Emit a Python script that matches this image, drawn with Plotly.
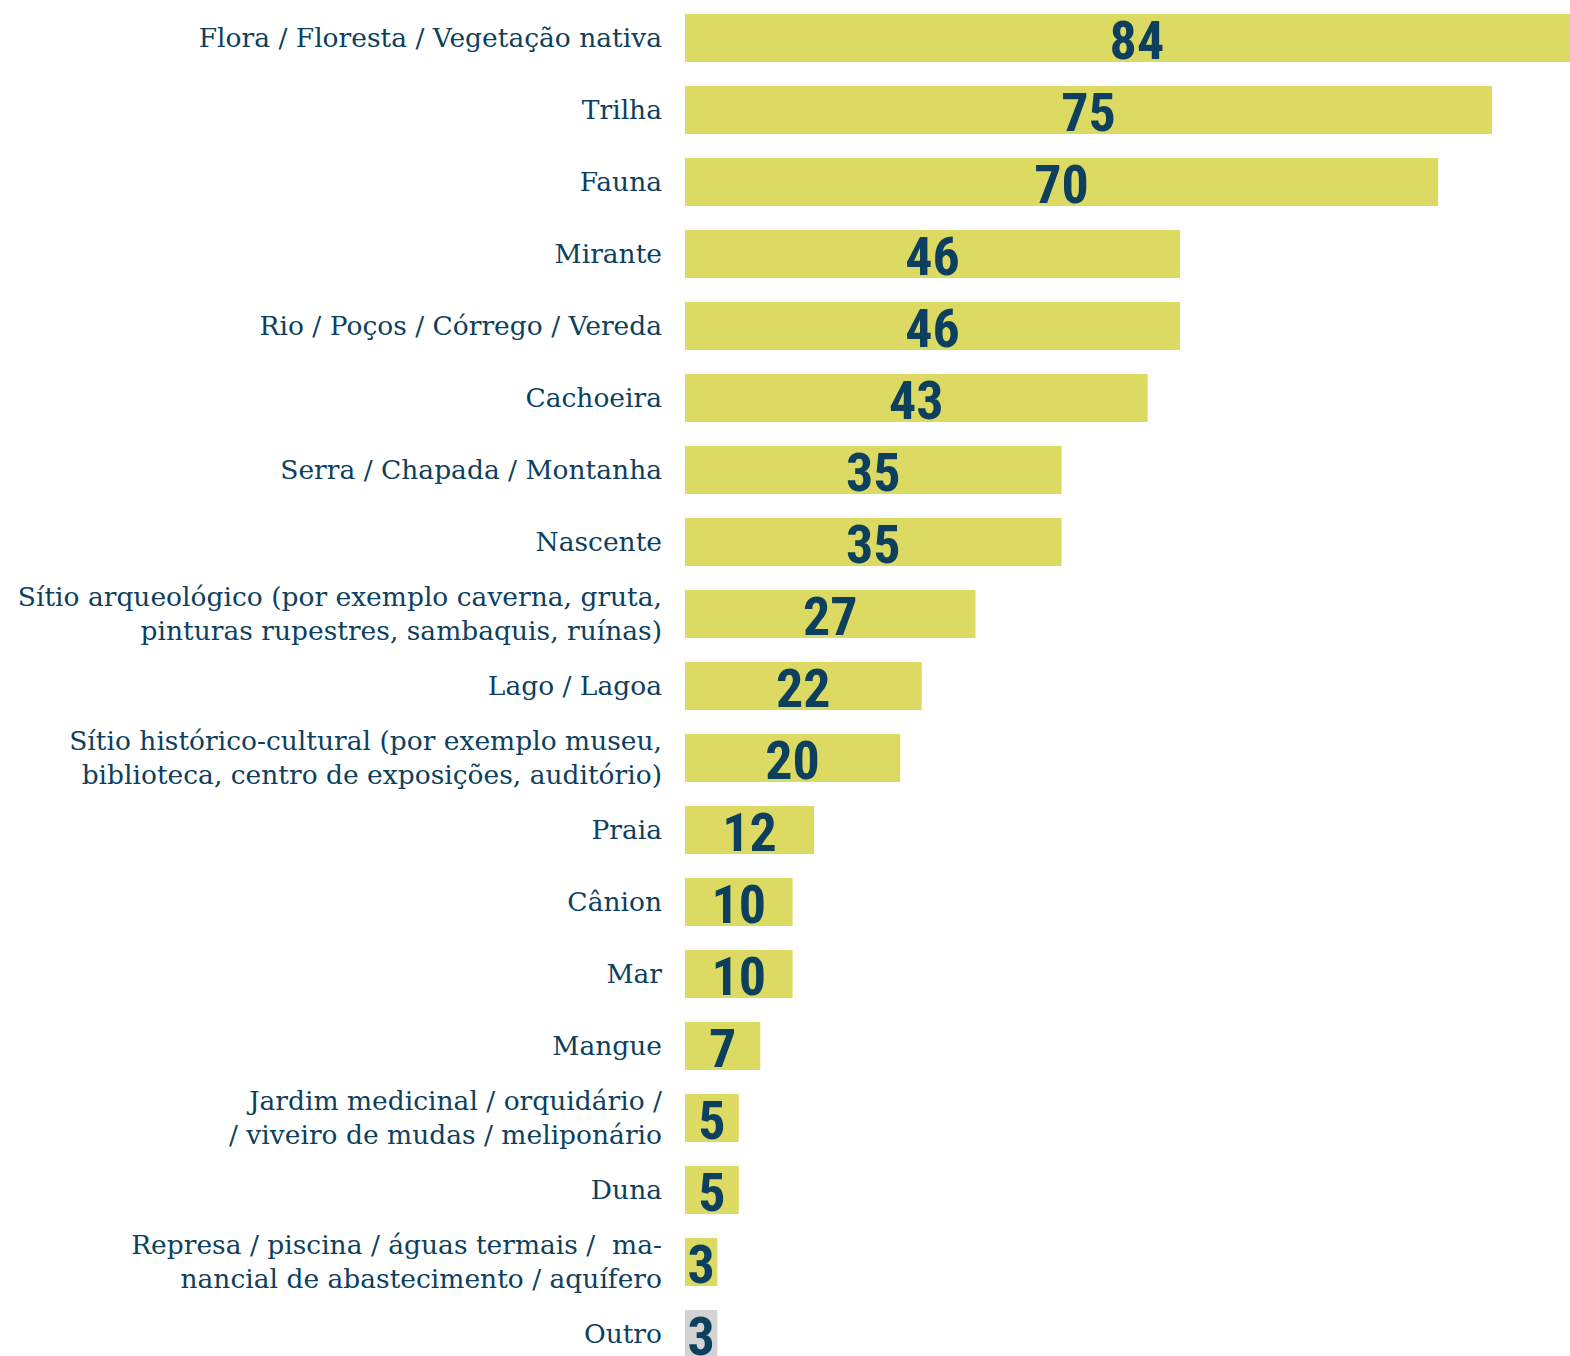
import plotly.graph_objects as go

categories = [
    "Flora / Floresta / Vegetação nativa",
    "Trilha",
    "Fauna",
    "Mirante",
    "Rio / Poços / Córrego / Vereda",
    "Cachoeira",
    "Serra / Chapada / Montanha",
    "Nascente",
    "Sítio arqueológico (por exemplo caverna, gruta,<br>pinturas rupestres, sambaquis, ruínas)",
    "Lago / Lagoa",
    "Sítio histórico-cultural (por exemplo museu,<br>biblioteca, centro de exposições, auditório)",
    "Praia",
    "Cânion",
    "Mar",
    "Mangue",
    "Jardim medicinal / orquidário /<br>/ viveiro de mudas / meliponário",
    "Duna",
    "Represa / piscina / águas termais /  ma-<br>nancial de abastecimento / aquífero",
    "Outro",
]
values = [84, 75, 70, 46, 46, 43, 35, 35, 27, 22, 20, 12, 10, 10, 7, 5, 5, 3, 3]

YELLOW = "#dcda63"
GREY = "#d3d3d3"
NAVY = "#0d3f5e"

positions = list(range(len(categories)))
colors = [GREY if c == "Outro" else YELLOW for c in categories]

fig = go.Figure()
fig.add_trace(go.Bar(
    x=values, y=positions, orientation="h",
    marker=dict(color=colors, line=dict(width=0)),
    width=0.667, hoverinfo="skip",
))
fig.add_trace(go.Scatter(
    x=[v / 2 for v in values], y=[p + 0.11 for p in positions], mode="text",
    text=[str(v) for v in values], textposition="middle center",
    textfont=dict(family="Roboto Condensed, DejaVu Sans Condensed, sans-serif",
                  size=54, color=NAVY, weight="bold"),
    cliponaxis=False, hoverinfo="skip",
))

fig.update_layout(
    width=1570, height=1356,
    margin=dict(l=685, r=0, t=2, b=0),
    paper_bgcolor="white", plot_bgcolor="white",
    showlegend=False,
    xaxis=dict(range=[0, 82.25], visible=False, fixedrange=True),
    yaxis=dict(
        range=[18.306, -0.5],
        tickvals=positions, ticktext=categories,
        showgrid=False, zeroline=False, showline=False,
        ticks="", ticklabelstandoff=22,
        tickfont=dict(family="DejaVu Serif", size=26.5, color=NAVY),
    ),
)

fig.write_html("out.html")
